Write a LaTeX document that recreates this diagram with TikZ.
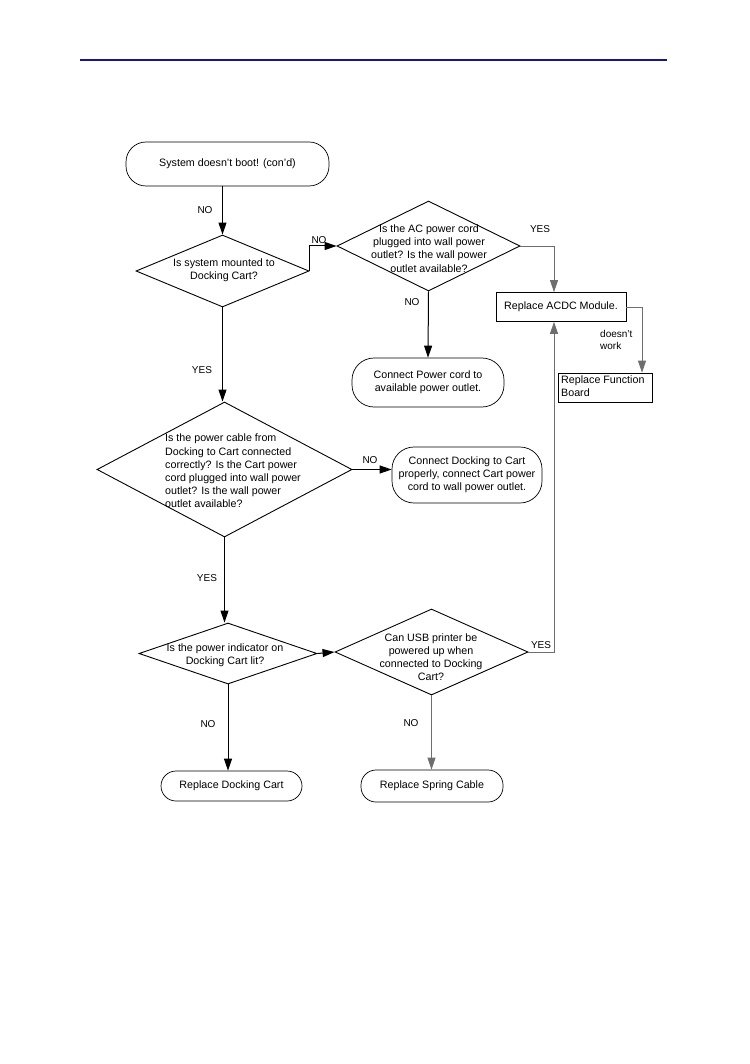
\documentclass[tikz,border=0pt]{standalone}
\usepackage{fontspec}
\setmainfont{Liberation Sans}
\usetikzlibrary{shapes.geometric,arrows.meta,calc}
\definecolor{hdrblue}{RGB}{20,20,150}
\definecolor{lgray}{RGB}{110,110,110}
\begin{document}
\begin{tikzpicture}[x=1pt,y=-1pt,
  font=\fontsize{10.7}{13.2}\selectfont,
  dec/.style={diamond,draw,line width=0.9pt,inner sep=0pt},
  term/.style={rectangle,draw,line width=0.7pt,rounded corners=#1,inner sep=0pt,align=center},
  box/.style={rectangle,draw,line width=0.7pt,inner sep=0pt},
  txt/.style={inner sep=0pt,align=center},
  lbl/.style={inner sep=0pt,font=\fontsize{10}{12}\selectfont},
  arr/.style={line width=1pt,-{Triangle[length=12pt,width=8pt]}},
  garr/.style={line width=0.7pt,draw=lgray,-{Triangle[length=12pt,width=8pt]}}]
\useasboundingbox (0,0) rectangle (749,1064);
% header rule
\draw[hdrblue,line width=1.6pt] (80,60) -- (667,60);

% nodes
\node[term=20pt,minimum width=203pt,minimum height=44pt] (start) at (227.5,164) {System doesn't boot! (con'd)};
\node[dec,minimum width=173pt,minimum height=72pt] (d1) at (222.5,271) {};
\node[txt] (d1t) at (224,270) {Is system mounted to\\Docking Cart?};
\node[dec,minimum width=183pt,minimum height=90pt] (d2) at (428.5,246) {};
\node[txt] (d2t) at (429,248.5) {Is the AC power cord\\plugged into wall power\\outlet? Is the wall power\\outlet available?};
\node[box,minimum width=130pt,minimum height=29pt] (acdc) at (561,307) {Replace ACDC Module.};
\node[term=22pt,minimum width=152pt,minimum height=49pt] (tpow) at (428,382.5) {Connect Power cord to\\available power outlet.};
\node[box,minimum width=94pt,minimum height=29pt] (func) at (605,387.5) {};
\node[txt,anchor=west,align=left] (funct) at (561,386) {Replace Function\\Board};
\node[dec,minimum width=255pt,minimum height=135pt] (d3) at (224.5,469.5) {};
\node[txt,anchor=west,align=left] (d3t) at (165,471) {Is the power cable from\\Docking to Cart connected\\correctly? Is the Cart power\\cord plugged into wall power\\outlet? Is the wall power\\outlet available?};
\node[term=22pt,minimum width=150pt,minimum height=56pt] (tdock) at (467,475) {Connect Docking to Cart\\properly, connect Cart power\\cord to wall power outlet.};
\node[dec,minimum width=178pt,minimum height=61pt] (d4) at (228,653.5) {};
\node[txt] (d4t) at (225,655) {Is the power indicator on\\Docking Cart lit?};
\node[dec,minimum width=193pt,minimum height=86pt] (d5) at (431.5,652) {};
\node[txt] (d5t) at (431,657) {Can USB printer be\\powered up when\\connected to Docking\\Cart?};
\node[term=15pt,minimum width=141pt,minimum height=30pt] (rdc) at (231.5,786) {Replace Docking Cart};
\node[term=15pt,minimum width=142pt,minimum height=32pt] (rsc) at (432,786) {Replace Spring Cable};

% connectors
\draw[arr] (start.south -| d1.north) -- (d1.north);
\draw[arr] (d1.east) |- (d2.west);
\draw[garr] (d2.east) -| ([xshift=-7pt]acdc.north);
\draw[arr] (d2.south) -- (tpow.north);
\draw[garr] (acdc.east) -| ([xshift=37pt]func.north);
\draw[arr] (d1.south) -- (d1.south |- d3.north);
\draw[arr] (d3.east) -- (d3.east -| tdock.west);
\draw[arr] (d3.south) -- (d3.south |- d4.north);
\draw[arr] (d4.east) -- (d5.west);
\draw[garr] (d5.east) -| ([xshift=-7pt]acdc.south);
\draw[arr] (d4.south) -- (d4.south |- rdc.north);
\draw[garr] (d5.south) -- (d5.south |- rsc.north);

% labels
\node[lbl] (l1) at (205,210) {NO};
\node[lbl] (l2) at (319,240) {NO};
\node[lbl] (l3) at (540,229) {YES};
\node[lbl] (l4) at (412,302) {NO};
\node[lbl,align=left,anchor=west] (l5) at (600,340) {doesn't\\work};
\node[lbl] (l6) at (202,370) {YES};
\node[lbl] (l7) at (370,460) {NO};
\node[lbl] (l8) at (207,578) {YES};
\node[lbl] (l9) at (541,645) {YES};
\node[lbl] (l10) at (208,724) {NO};
\node[lbl] (l11) at (411,723) {NO};
\end{tikzpicture}
\end{document}
